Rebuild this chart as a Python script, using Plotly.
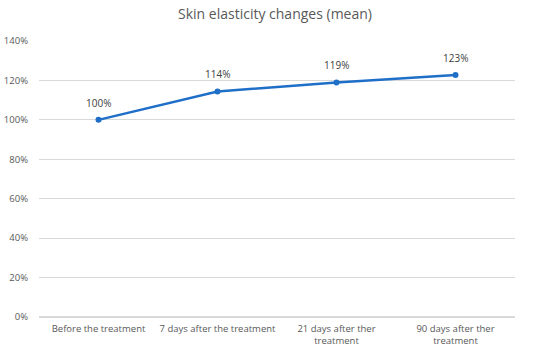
import plotly.graph_objects as go

categories = ["Before the treatment", "7 days after the treatment",
              "21 days after ther<br>treatment", "90 days after ther<br>treatment"]
values = [1.00, 1.144, 1.19, 1.228]
y_ticks = [0, 0.2, 0.4, 0.6, 0.8, 1.0, 1.2, 1.4]

fig = go.Figure()
fig.add_trace(go.Scatter(
    x=categories, y=values, mode="lines+markers",
    line=dict(color="#1F6FC8", width=2.5),
    marker=dict(color="#1F6FC8", size=6),
    cliponaxis=False, showlegend=False, hoverinfo="skip",
))
for c, v in zip(categories, values):
    fig.add_annotation(x=c, y=v, text=f"{v:.0%}", showarrow=False,
                       yshift=17, font=dict(size=10, color="#404040"))
fig.update_layout(
    width=550, height=356,
    margin=dict(l=38.5, r=34.5, t=41, b=39),
    paper_bgcolor="white", plot_bgcolor="white",
    font=dict(family="Open Sans, Liberation Sans, sans-serif", color="#595959"),
    title=dict(text="Skin elasticity changes (mean)", x=0.5, xanchor="center",
               y=0.96, yanchor="middle", font=dict(size=14, color="#595959")),
)
fig.update_xaxes(range=[-0.5, 3.5], showgrid=False, showline=False, ticks="",
                 tickfont=dict(size=9.5), automargin=False, ticklabelstandoff=4)
fig.update_yaxes(range=[0, 1.4], tickvals=y_ticks, tickformat=".0%",
                 gridcolor="#D9D9D9", gridwidth=1, zeroline=True, zerolinecolor="#D9D9D9",
                 showline=False, ticks="", tickfont=dict(size=9.5), automargin=False,
                 ticklabelstandoff=10)
fig.write_html("out.html", config={"displayModeBar": False},
               post_script="document.body.style.margin='0';")
